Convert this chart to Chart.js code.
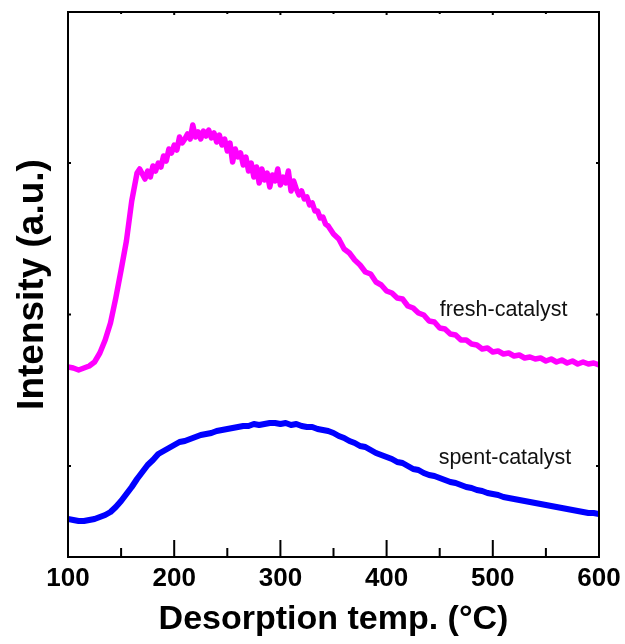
<!DOCTYPE html>
<html>
<head>
<meta charset="utf-8">
<script src="https://cdn.jsdelivr.net/npm/chart.js@4/dist/chart.umd.min.js"></script>
<style>
  html, body { margin: 0; padding: 0; background: #fff; }
  canvas { display: block; }
</style>
</head>
<body>
<canvas id="tpd" width="625" height="644"></canvas>
<script>
// [temperature degC, intensity a.u.]
const fresh = [
  [100, 190], [105, 189], [110, 187], [115, 189], [120, 191], [125, 195],
  [130, 204], [135, 217], [140, 234], [145, 259], [150, 287], [155, 316],
  [160, 356],
  [165, 384], [167.5, 388], [170, 383], [172.5, 378], [175, 386], [177.5, 380],
  [180, 391], [182.5, 386], [185, 394], [187.5, 390], [190, 401], [192.5, 396],
  [195, 408], [197.5, 404], [200, 412], [202.5, 407], [205, 420], [207.5, 414],
  [210, 418], [212.5, 423], [215, 418], [217.5, 432], [220, 420], [222.5, 425],
  [225, 418], [227.5, 426], [230, 421], [232.5, 427], [235, 419], [237.5, 424],
  [240, 415], [242.5, 422], [245, 412], [247.5, 418], [250, 406], [252.5, 414],
  [255, 395], [257.5, 408], [260, 400], [262.5, 404], [265, 392], [267.5, 400],
  [270, 386], [272.5, 394], [275, 380], [277.5, 390], [280, 374], [282.5, 388],
  [285, 377], [287.5, 384], [290, 370], [292.5, 382], [295, 376], [297.5, 388],
  [300, 372], [302.5, 380], [305, 374], [307.5, 386], [310, 366], [312.5, 376],
  [315, 368], [317.5, 362], [320, 366], [322.5, 358], [325, 360], [327.5, 352],
  [330, 354], [332.5, 346], [335, 346], [337.5, 339], [340, 340], [342.5, 333],
  [345, 331],
  [350, 323], [355, 318], [360, 308], [365, 304], [370, 297], [375, 292],
  [380, 285], [385, 283], [390, 275], [395, 272], [400, 266], [405, 264],
  [410, 259], [415, 258], [420, 251], [425, 249], [430, 244], [435, 242],
  [440, 236], [445, 235], [450, 229], [455, 228], [460, 223], [465, 222],
  [470, 217], [475, 217], [480, 213], [485, 212], [490, 208], [495, 209],
  [500, 205], [505, 206], [510, 203], [515, 204], [520, 201], [525, 202],
  [530, 199], [535, 200], [540, 198], [545, 199], [550, 196], [555, 198],
  [560, 195], [565, 197], [570, 194], [575, 196], [580, 193], [585, 195],
  [590, 193], [595, 194], [600, 192]
];

const spent = [
  [100, 38], [105, 37], [110, 36], [115, 36], [120, 37], [125, 38],
  [130, 40], [135, 42], [140, 45], [145, 50], [150, 56], [155, 63],
  [160, 70], [165, 78], [170, 85], [175, 92], [180, 97], [185, 103],
  [190, 106], [195, 109], [200, 112], [205, 115], [210, 116], [215, 118],
  [220, 120], [225, 122], [230, 123], [235, 124], [240, 126], [245, 127],
  [250, 128], [255, 129], [260, 130], [265, 131], [270, 131], [275, 133],
  [280, 132], [285, 133], [290, 134], [295, 134], [300, 133], [305, 134],
  [310, 132], [315, 133], [320, 131], [325, 130], [330, 130], [335, 128],
  [340, 127], [345, 126], [350, 124], [355, 121], [360, 119], [365, 116],
  [370, 114], [375, 111], [380, 110], [385, 107], [390, 104], [395, 102],
  [400, 100], [405, 98], [410, 95], [415, 94], [420, 91], [425, 88],
  [430, 87], [435, 84], [440, 82], [445, 81], [450, 79], [455, 77],
  [460, 75], [465, 74], [470, 72], [475, 70], [480, 69], [485, 67],
  [490, 66], [495, 64], [500, 63], [505, 62], [510, 60], [515, 59],
  [520, 58], [525, 57], [530, 56], [535, 55], [540, 54], [545, 53],
  [550, 52], [555, 51], [560, 50], [565, 49], [570, 48], [575, 47],
  [580, 46], [585, 45], [590, 44], [595, 44], [600, 43]
];

const xMajor = [100, 200, 300, 400, 500, 600];
const xMinor = [150, 250, 350, 450, 550];
const yTicks = [91, 242.5, 394];

const labels = [
  { text: 'fresh-catalyst', x: 450, y: 241 },
  { text: 'spent-catalyst', x: 449, y: 93 }
];

const FONT = '"Liberation Sans", Arial, sans-serif';

const frame = {
  id: 'frame',
  afterDatasetsDraw(chart) {
    const { ctx, chartArea: a, scales: { x, y } } = chart;
    ctx.save();
    ctx.strokeStyle = '#000';
    ctx.lineWidth = 2;
    ctx.strokeRect(a.left, a.top, a.right - a.left, a.bottom - a.top);
    ctx.beginPath();
    xMajor.forEach(v => {
      const px = x.getPixelForValue(v);
      ctx.moveTo(px, a.bottom); ctx.lineTo(px, a.bottom - 17);
      ctx.moveTo(px, a.top); ctx.lineTo(px, a.top + 3);
    });
    xMinor.forEach(v => {
      const px = x.getPixelForValue(v);
      ctx.moveTo(px, a.bottom); ctx.lineTo(px, a.bottom - 9);
      ctx.moveTo(px, a.top); ctx.lineTo(px, a.top + 2);
    });
    yTicks.forEach(v => {
      const py = y.getPixelForValue(v);
      ctx.moveTo(a.left, py); ctx.lineTo(a.left + 3, py);
      ctx.moveTo(a.right, py); ctx.lineTo(a.right - 3, py);
    });
    ctx.stroke();

    ctx.fillStyle = '#111';
    ctx.font = '21.5px ' + FONT;
    ctx.textBaseline = 'alphabetic';
    ctx.textAlign = 'left';
    labels.forEach(l => {
      ctx.fillText(l.text, x.getPixelForValue(l.x), y.getPixelForValue(l.y));
    });
    ctx.restore();
  }
};

new Chart(document.getElementById('tpd'), {
  type: 'line',
  data: {
    datasets: [
      {
        label: 'fresh-catalyst',
        data: fresh.map(p => ({ x: p[0], y: p[1] })),
        borderColor: '#ff00ff',
        borderWidth: 5.5,
        borderJoinStyle: 'round',
        borderCapStyle: 'round',
        pointRadius: 0,
        tension: 0
      },
      {
        label: 'spent-catalyst',
        data: spent.map(p => ({ x: p[0], y: p[1] })),
        borderColor: '#0000ff',
        borderWidth: 6,
        borderJoinStyle: 'round',
        borderCapStyle: 'round',
        pointRadius: 0,
        tension: 0
      }
    ]
  },
  options: {
    responsive: false,
    animation: false,
    devicePixelRatio: 1,
    layout: { padding: { left: 0, top: 12, right: 26, bottom: 0 } },
    plugins: {
      legend: { display: false },
      tooltip: { enabled: false }
    },
    scales: {
      x: {
        type: 'linear',
        min: 100,
        max: 600,
        afterBuildTicks: s => { s.ticks = xMajor.map(v => ({ value: v })); },
        afterFit: s => { s.height = 87; },
        grid: { display: false },
        border: { display: false },
        ticks: {
          color: '#000',
          padding: -2,
          font: { family: FONT, size: 26, weight: 'bold' }
        },
        title: {
          display: true,
          text: 'Desorption temp. (°C)',
          color: '#000',
          padding: { top: 0, bottom: 4 },
          font: { family: FONT, size: 34, weight: 'bold' }
        }
      },
      y: {
        min: 0,
        max: 545,
        afterFit: s => { s.width = 68; },
        grid: { display: false },
        border: { display: false },
        ticks: { display: false },
        title: {
          display: true,
          text: 'Intensity (a.u.)',
          color: '#000',
          padding: { top: 11, bottom: 0 },
          font: { family: FONT, size: 37, weight: 'bold' }
        }
      }
    }
  },
  plugins: [frame]
});
</script>
</body>
</html>
